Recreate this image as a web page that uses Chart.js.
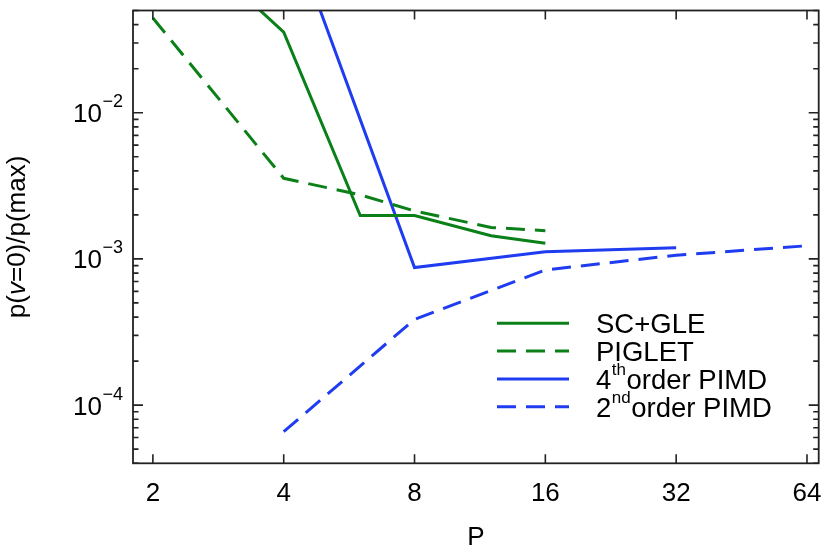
<!DOCTYPE html>
<html>
<head>
<meta charset="utf-8">
<script src="https://cdn.jsdelivr.net/npm/chart.js@4.4.1/dist/chart.umd.min.js"></script>
<style>
  html, body { margin: 0; padding: 0; background: #fff; }
  #wrap { width: 830px; height: 553px; }
</style>
</head>
<body>
<div id="wrap"><canvas id="chart" width="830" height="553"></canvas></div>
<script>
const FONT = "'Liberation Sans', Arial, Helvetica, sans-serif";
const GREEN = '#0b8019';
const BLUE = '#1f3cf0';

// P values and p(v=0)/p(max)
const scgleP = [3, 4, 6, 8, 12, 16];
const scgleV = [0.078, 0.0356, 0.00198, 0.00198, 0.00144, 0.00128];
const pigletP = [2, 4, 6, 8, 12, 16];
const pigletV = [0.0444, 0.00356, 0.00274, 0.00213, 0.00164, 0.00156];
const pimd4P = [4, 8, 16, 32];
const pimd4V = [0.24, 0.000872, 0.00112, 0.00119];
const pimd2P = [4, 8, 16, 32, 64];
const pimd2V = [0.0000658, 0.000386, 0.00084, 0.00106, 0.00123];

const xTicks = [2, 4, 8, 16, 32, 64];
const yTickExp = [-2, -3, -4];

// legend text: main part, superscript, rest
const legendParts = [
    ['SC+GLE', '', ''],
    ['PIGLET', '', ''],
    ['4', 'th', 'order PIMD'],
    ['2', 'nd', 'order PIMD']
];

const pts = (xs, ys) => xs.map((x, i) => ({ x: x, y: ys[i] }));

const frameAndText = {
    id: 'frameAndText',
    afterDraw(chart) {
        const ctx = chart.ctx;
        const a = chart.chartArea;
        const xs = chart.scales.x;
        const ys = chart.scales.y;
        ctx.save();

        // frame
        ctx.strokeStyle = '#222';
        ctx.lineWidth = 1.8;
        ctx.strokeRect(a.left, a.top, a.right - a.left, a.bottom - a.top);

        // inward ticks
        ctx.lineWidth = 1.6;
        ctx.beginPath();
        xTicks.forEach(v => {
            const px = xs.getPixelForValue(v);
            ctx.moveTo(px, a.bottom); ctx.lineTo(px, a.bottom - 9);
            ctx.moveTo(px, a.top); ctx.lineTo(px, a.top + 9);
        });
        for (let e = -5; e <= -1; e++) {
            for (let m = 1; m <= 9; m++) {
                const v = m * Math.pow(10, e);
                if (v < ys.min || v > ys.max) continue;
                const py = ys.getPixelForValue(v);
                const len = m === 1 ? 10 : 5.5;
                ctx.moveTo(a.left, py); ctx.lineTo(a.left + len, py);
                ctx.moveTo(a.right, py); ctx.lineTo(a.right - len, py);
            }
        }
        ctx.stroke();

        // y tick labels 10^n
        ctx.fillStyle = '#000';
        ctx.textBaseline = 'alphabetic';
        yTickExp.forEach(e => {
            const py = ys.getPixelForValue(Math.pow(10, e));
            ctx.font = '26px ' + FONT;
            ctx.textAlign = 'right';
            ctx.fillText('10', 102, py + 9.5);
            ctx.font = '18px ' + FONT;
            ctx.textAlign = 'left';
            ctx.fillText('\u2212' + (-e), 102.5, py - 5.5);
        });

        // y axis title with italic v
        const cy = (a.top + a.bottom) / 2;
        const parts = [['p(', ''], ['v', 'italic '], ['=0)/p(max)', '']];
        let total = 0;
        parts.forEach(p => { ctx.font = p[1] + '26px ' + FONT; total += ctx.measureText(p[0]).width; });
        ctx.translate(25, cy);
        ctx.rotate(-Math.PI / 2);
        let tx = -total / 2;
        ctx.textAlign = 'left';
        parts.forEach(p => {
            ctx.font = p[1] + '26px ' + FONT;
            ctx.fillText(p[0], tx, 0);
            tx += ctx.measureText(p[0]).width;
        });
        ctx.setTransform(1, 0, 0, 1, 0, 0);

        // legend
        const rowY0 = 323.3, rowStep = 27.8;
        chart.data.datasets.forEach((ds, i) => {
            const y = rowY0 + i * rowStep;
            ctx.strokeStyle = ds.borderColor;
            ctx.lineWidth = ds.borderWidth;
            ctx.setLineDash(ds.borderDash || []);
            ctx.beginPath();
            ctx.moveTo(497, y); ctx.lineTo(569, y);
            ctx.stroke();
            ctx.setLineDash([]);
            const lp = legendParts[i];
            let lx = 596;
            ctx.textAlign = 'left';
            ctx.font = '27.5px ' + FONT;
            ctx.fillText(lp[0], lx, y + 9.8);
            lx += ctx.measureText(lp[0]).width;
            if (lp[1]) {
                ctx.font = '17px ' + FONT;
                ctx.fillText(lp[1], lx + 0.5, y - 3.5);
                lx += ctx.measureText(lp[1]).width + 1;
                ctx.font = '27.5px ' + FONT;
                ctx.fillText(lp[2], lx, y + 9.8);
            }
        });
        ctx.restore();
    }
};

const context = document.querySelector('#chart');
const chart = new Chart(context, {
    type: 'line',
    data: {
        datasets: [
            { label: 'SC+GLE', data: pts(scgleP, scgleV), borderColor: GREEN, borderWidth: 3 },
            { label: 'PIGLET', data: pts(pigletP, pigletV), borderColor: GREEN, borderWidth: 3, borderDash: [19, 10] },
            { label: '4th order PIMD', data: pts(pimd4P, pimd4V), borderColor: BLUE, borderWidth: 3 },
            { label: '2nd order PIMD', data: pts(pimd2P, pimd2V), borderColor: BLUE, borderWidth: 3, borderDash: [19, 10] }
        ]
    },
    options: {
        responsive: false,
        animation: false,
        layout: { padding: { top: 10.5, right: 11.3, left: 0, bottom: 0 } },
        elements: { point: { radius: 0 }, line: { tension: 0, fill: false } },
        plugins: { legend: { display: false }, tooltip: { enabled: false } },
        scales: {
            x: {
                type: 'logarithmic',
                min: 1.8,
                max: 68.1,
                grid: { display: false },
                border: { display: false },
                afterBuildTicks: s => { s.ticks = xTicks.map(v => ({ value: v })); },
                afterFit: s => { s.height = 89.7; },
                ticks: {
                    autoSkip: false,
                    maxRotation: 0,
                    padding: 7,
                    color: '#000',
                    font: { family: FONT, size: 26 },
                    callback: v => String(v)
                },
                title: {
                    display: true,
                    text: 'P',
                    color: '#000',
                    font: { family: FONT, size: 26 },
                    padding: { top: 0, bottom: 0 }
                }
            },
            y: {
                type: 'logarithmic',
                min: 0.00004,
                max: 0.05,
                grid: { display: false },
                border: { display: false },
                ticks: { display: false },
                afterFit: s => { s.width = 133; }
            }
        }
    },
    plugins: [frameAndText]
});
</script>
</body>
</html>
